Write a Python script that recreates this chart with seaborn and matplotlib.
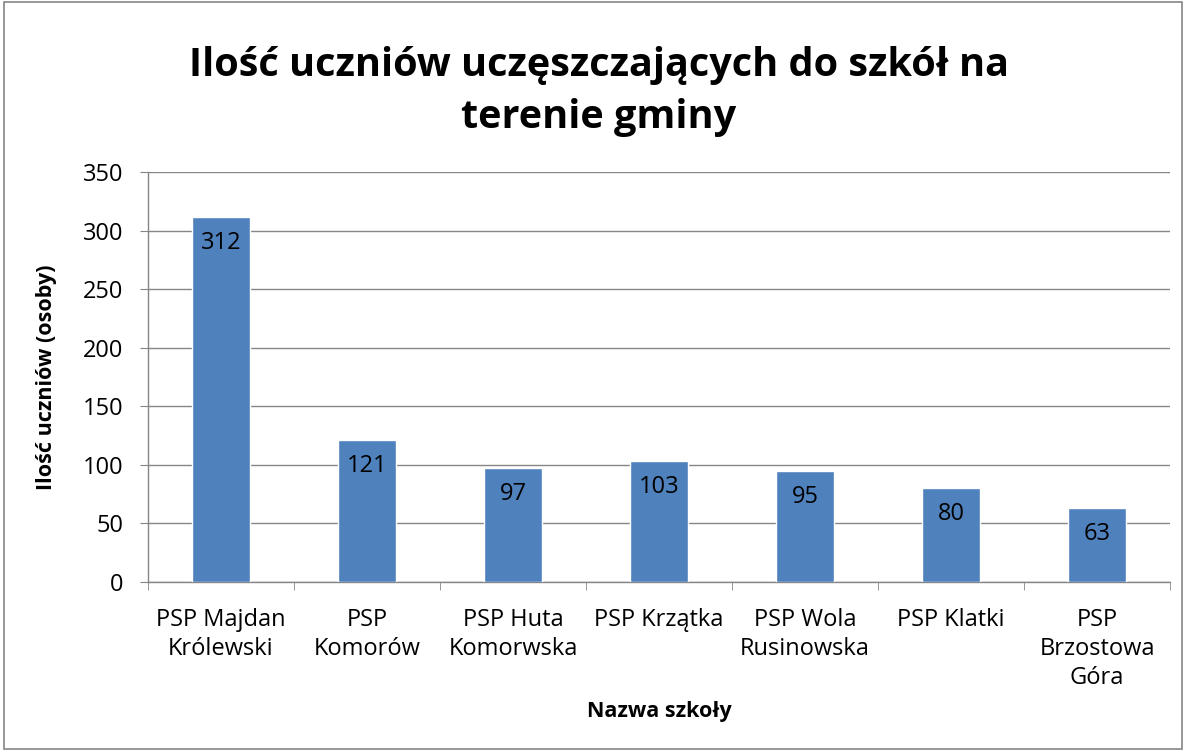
import matplotlib
matplotlib.use("Agg")
import matplotlib.pyplot as plt
import seaborn as sns
import pandas as pd
import numpy as np
from matplotlib.patches import Rectangle

schools = ["PSP Majdan\nKrólewski", "PSP\nKomorów", "PSP Huta\nKomorwska", "PSP Krzątka",
           "PSP Wola\nRusinowska", "PSP Klatki", "PSP\nBrzostowa\nGóra"]
students = [312, 121, 97, 103, 95, 80, 63]
y_ticks = [0, 50, 100, 150, 200, 250, 300, 350]

df = pd.DataFrame({"szkola": schools, "uczniowie": students})

sns.set_style("white")
plt.rcParams["font.family"] = ["Open Sans", "DejaVu Sans"]
plt.rcParams["text.color"] = "black"
plt.rcParams["axes.labelcolor"] = "black"
plt.rcParams["xtick.color"] = "black"
plt.rcParams["ytick.color"] = "black"

fig = plt.figure(figsize=(11.86, 7.51), dpi=100)
ax = fig.add_axes([148 / 1186, 1 - 582 / 751, (1170 - 148) / 1186, (582 - 172) / 751])

sns.barplot(data=df, x="szkola", y="uczniowie", color="#4F81BD", width=0.4,
            saturation=1, ax=ax, zorder=3)

ax.set_ylim(0, 350)
ax.set_xlim(-0.5, len(schools) - 0.5)
ax.set_yticks(y_ticks)
ax.yaxis.grid(True, color="#868686", linewidth=1, zorder=0)
ax.set_axisbelow(True)
for s in ["top", "right"]:
    ax.spines[s].set_visible(False)
for s in ["left", "bottom"]:
    ax.spines[s].set_color("#868686")
    ax.spines[s].set_linewidth(1)

ax.tick_params(axis="y", labelsize=17, length=6, color="#868686", left=True, direction="out", pad=12)
ax.tick_params(axis="x", labelsize=17, length=0, pad=19)
for lab in ax.get_xticklabels():
    lab.set_linespacing(1.27)
# category boundary ticks
ax.set_xticks(np.arange(-0.5, len(schools)), minor=True)
ax.tick_params(axis="x", which="minor", length=6, color="#868686", bottom=True)

for i, v in enumerate(students):
    ax.text(i, v - 12, str(v), ha="center", va="top", fontsize=17, color="black", zorder=4)

ax.set_xlabel("Nazwa szkoły", fontsize=15.5, fontweight="bold", labelpad=8)
ax.set_ylabel("Ilość uczniów (osoby)", fontsize=15.5, fontweight="bold", labelpad=18)

fig.text(0.505, 0.878, "Ilość uczniów uczęszczających do szkół na\nterenie gminy", ha="center",
         va="center", fontsize=28.5, fontweight="bold", linespacing=1.45)

fig.patches.append(Rectangle((0.003, 0.003), 0.994, 0.994, transform=fig.transFigure,
                             fill=False, edgecolor="#868686", linewidth=1.2))

fig.savefig("out.png", dpi=100)
